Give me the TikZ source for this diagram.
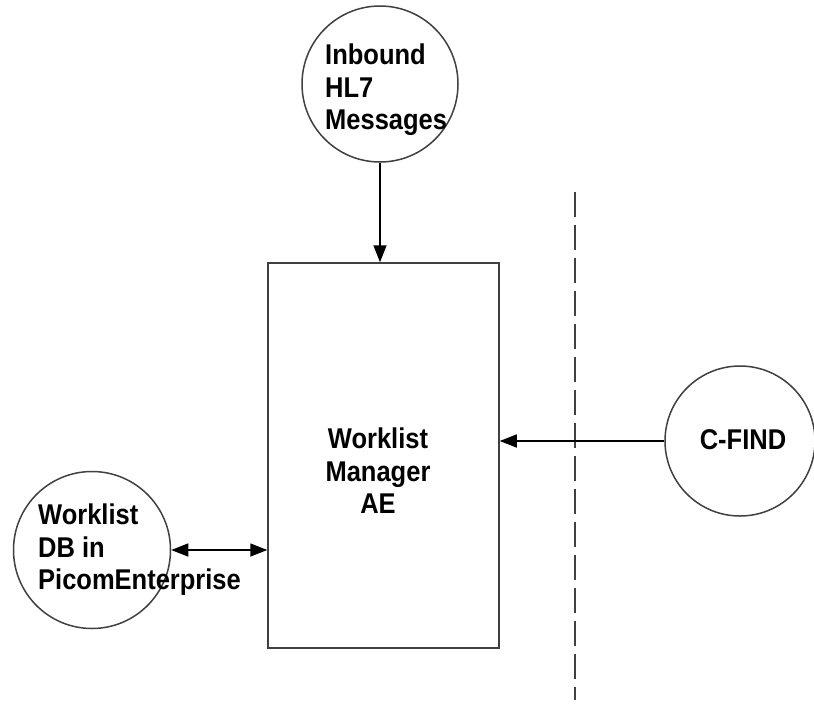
\documentclass[tikz,border=0pt]{standalone}
\usepackage{fontspec}
\setmainfont{Liberation Sans}
\usetikzlibrary{arrows.meta}

\tikzset{
    bubble/.style={draw=black!75, line width=1.5pt, circle, inner sep=0pt},
    txt/.style={inner sep=0pt, yscale=1.12, transform shape, font=\bfseries\fontsize{25.5}{29}\selectfont},
    flow/.style={line width=1.5pt, -{Triangle[length=17pt,width=13pt]}}
}

\begin{document}
\begin{tikzpicture}[x=1pt, y=-1pt]
    \useasboundingbox (0,0) rectangle (814,721);

    \node[draw=black!75, line width=1.5pt, minimum width=231pt, minimum height=385pt] (wlm) at (383.5,455.5) {};
    \node[txt, align=center, anchor=north] (wlmtxt) at (378,428) {Worklist\\Manager\\AE};

    \node[bubble, minimum size=156pt] (hl7) at (380,84) {};
    \node[txt, align=left, anchor=north west] (hl7txt) at (325,44) {Inbound\\HL7\\Messages};

    \node[bubble, minimum size=157pt] (db) at (92,550) {};
    \node[txt, align=left, anchor=north west] (dbtxt) at (38,504) {Worklist\\DB in\\PicomEnterprise};

    \node[bubble, minimum size=150pt] (cfind) at (740,441) {};
    \node[txt] (cfindtxt) at (743,440) {C-FIND};

    \coordinate (top) at (575,192);
    \coordinate (bottom) at (575,700);
    \draw[black!75, line width=1.8pt, dash pattern=on 25pt off 8pt] (top) -- (bottom);

    \draw[flow] (hl7.south) -- (hl7.south |- wlm.north);
    \draw[flow] (cfind.west) -- (cfind.west -| wlm.east);
    \draw[flow, {Triangle[length=17pt,width=13pt]}-{Triangle[length=17pt,width=13pt]}] (db.east) -- (db.east -| wlm.west);
\end{tikzpicture}
\end{document}
